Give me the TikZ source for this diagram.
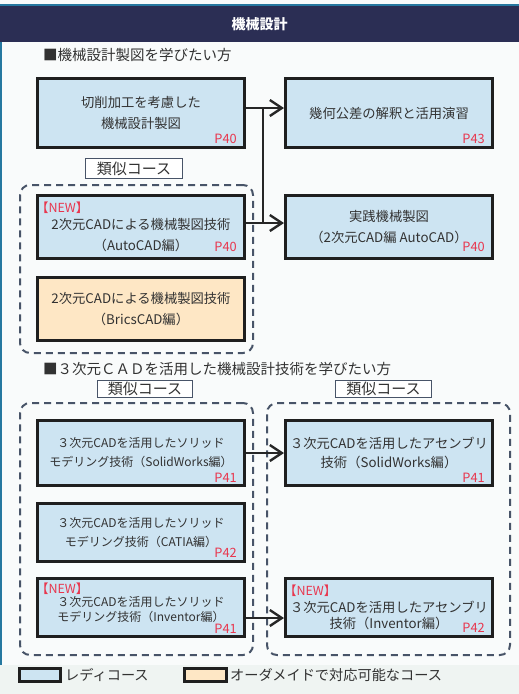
\documentclass[tikz,border=0pt]{standalone}
\usepackage{fontspec}
\setmainfont{Noto Sans CJK JP}
\usepackage{xcolor}
\usepackage{tikz}
\usetikzlibrary{arrows.meta,positioning,fit,calc}
\definecolor{navy}{RGB}{43,46,84}
\definecolor{teal2}{RGB}{38,120,160}
\definecolor{readyblue}{RGB}{205,228,242}
\definecolor{orderorange}{RGB}{254,231,197}
\definecolor{pagered}{RGB}{232,54,78}
\definecolor{slate}{RGB}{72,84,104}
\definecolor{ink}{RGB}{50,50,50}
\definecolor{paper}{RGB}{249,251,251}
\definecolor{legendbg}{RGB}{239,244,242}
\newcommand{\newmark}{\makebox[198pt][l]{\hspace*{-6pt}\textcolor{pagered}{\fontsize{12.5}{12.5}\selectfont 【NEW】}}}
\tikzset{
  readybox/.style={draw=black!88, line width=3pt, fill=readyblue, minimum width=207pt,
    align=center, text=ink, inner sep=2pt, font=\fontsize{13.3}{21.5}\selectfont},
  orderbox/.style={readybox, fill=orderorange},
  smalltext/.style={font=\fontsize{12}{19}\selectfont},
  pagetag/.style={anchor=south east, text=pagered, inner sep=0pt, xshift=-9pt, yshift=5.5pt,
    font=\fontsize{12.8}{12.8}\selectfont},
  simtag/.style={draw=slate, line width=0.9pt, fill=white, text=ink, inner sep=0pt,
    font=\fontsize{15}{15}\selectfont},
  groupbox/.style={draw=slate, line width=2pt, dash pattern=on 7pt off 5pt,
    rounded corners=10pt, inner sep=0pt},
  flow/.style={-{Straight Barb[length=12pt,width=16pt]}, line width=2.4pt, draw=black!85},
  link/.style={line width=2.4pt, draw=black!85},
  heading/.style={anchor=west, text=ink, inner sep=0pt, font=\fontsize{14.5}{14.5}\selectfont},
  legendbox/.style={draw=black!88, line width=3pt, minimum height=13pt, inner sep=0pt},
  legendtext/.style={anchor=west, text=ink, inner sep=0pt, font=\fontsize{14.2}{14.2}\selectfont}
}
\begin{document}
\begin{tikzpicture}[x=1pt, y=-1pt]
\useasboundingbox (0,0) rectangle (519,694);
\fill[paper] (0,0) rectangle (519,665);
\fill[legendbg] (0,665) rectangle (519,694);
\fill[navy] (0,5) rectangle (519,42);
\draw[teal2, line width=1.2pt] (0,5) -- (519,5);
\draw[teal2, line width=1.5pt] (1,42) -- (1,665);
\node[text=white, font=\bfseries\fontsize{14}{14}\selectfont] (title) at (259.5,24) {機械設計};

\node[heading] (head1) at (43,55) {■機械設計製図を学びたい方};
\node[groupbox, fit={(20,185) (253,353)}] (grp1) {};
\node[readybox, minimum height=69pt] (cut) at (141,113) {切削加工を考慮した\\機械設計製図};
\node[readybox, minimum height=69pt, right=38pt of cut] (gdt) {幾何公差の解釈と活用演習};
\node[simtag, minimum width=97pt, minimum height=20pt] (sim1) at (134,168.5) {類似コース};
\node[readybox, minimum height=63pt] (acad) at (141,227)
  {\newmark\\[-5pt]2次元CADによる機械製図技術\\（AutoCAD編）};
\node[readybox, minimum height=63pt, right=38pt of acad] (prac) {実践機械製図\\（2次元CAD編 AutoCAD）};
\node[orderbox, minimum height=63pt, below=16pt of acad] (brics) {2次元CADによる機械製図技術\\（BricsCAD編）};
\node[pagetag] (pcut) at (cut.south east) {P40};
\node[pagetag] (pgdt) at (gdt.south east) {P43};
\node[pagetag, yshift=2.5pt] (pacad) at (acad.south east) {P40};
\node[pagetag, yshift=2.5pt] (pprac) at (prac.south east) {P40};

\coordinate (jtop) at ([xshift=17pt, yshift=5pt]cut.east);
\coordinate (jbot) at ([xshift=17pt, yshift=4pt]acad.east);
\draw[flow] ([yshift=5pt]cut.east) -- ([yshift=5pt]gdt.west);
\draw[flow] ([yshift=4pt]acad.east) -- ([yshift=4pt]prac.west);
\draw[link] (jtop) -- (jbot);

\node[heading] (head2) at (43,369) {■３次元ＣＡＤを活用した機械設計技術を学びたい方};
\node[simtag, minimum width=95pt, minimum height=17pt] (sim2) at (145,389) {類似コース};
\node[simtag, minimum width=96pt, minimum height=17pt] (sim3) at (383.5,389) {類似コース};
\node[groupbox, fit={(20,403) (253,655)}] (grp2) {};
\node[groupbox, fit={(267,403) (510,655)}] (grp3) {};
\node[readybox, smalltext, minimum height=65pt] (swsolid) at (141,453)
  {３次元CADを活用したソリッド\\モデリング技術（SolidWorks編）};
\node[readybox, minimum height=65pt, right=38pt of swsolid] (swasm)
  {３次元CADを活用したアセンブリ\\[-2.5pt]技術（SolidWorks編）};
\node[readybox, smalltext, minimum height=58pt, below=15pt of swsolid] (catia)
  {３次元CADを活用したソリッド\\モデリング技術（CATIA編）};
\node[readybox, smalltext, minimum height=58pt, below=14pt of catia] (invsolid)
  {\newmark\\[-6pt]３次元CADを活用したソリッド\\[-4pt]モデリング技術（Inventor編）\\[-8pt]\mbox{}};
\node[readybox, minimum height=58pt, right=38pt of invsolid] (invasm)
  {\newmark\\[-4.5pt]３次元CADを活用したアセンブリ\\[-5.5pt]技術（Inventor編）};
\node[pagetag, yshift=-1.5pt] (pswsolid) at (swsolid.south east) {P41};
\node[pagetag, yshift=-1.5pt] (pswasm) at (swasm.south east) {P41};
\node[pagetag] (pcatia) at (catia.south east) {P42};
\node[pagetag, yshift=-1.5pt] (pinvsolid) at (invsolid.south east) {P41};
\node[pagetag] (pinvasm) at (invasm.south east) {P42};

\draw[flow] (swsolid.east) -- (swasm.west);
\draw[flow] ([yshift=-10.5pt]invsolid.east) -- ([yshift=-10.5pt]invasm.west);

\node[legendbox, fill=readyblue, minimum width=41pt] (legready) at (40,675) {};
\node[legendtext] (legreadytxt) at (65,675) {レディコース};
\node[legendbox, fill=orderorange, minimum width=42pt] (legorder) at (205.5,675) {};
\node[legendtext] (legordertxt) at (230,675) {オーダメイドで対応可能なコース};
\end{tikzpicture}
\end{document}
